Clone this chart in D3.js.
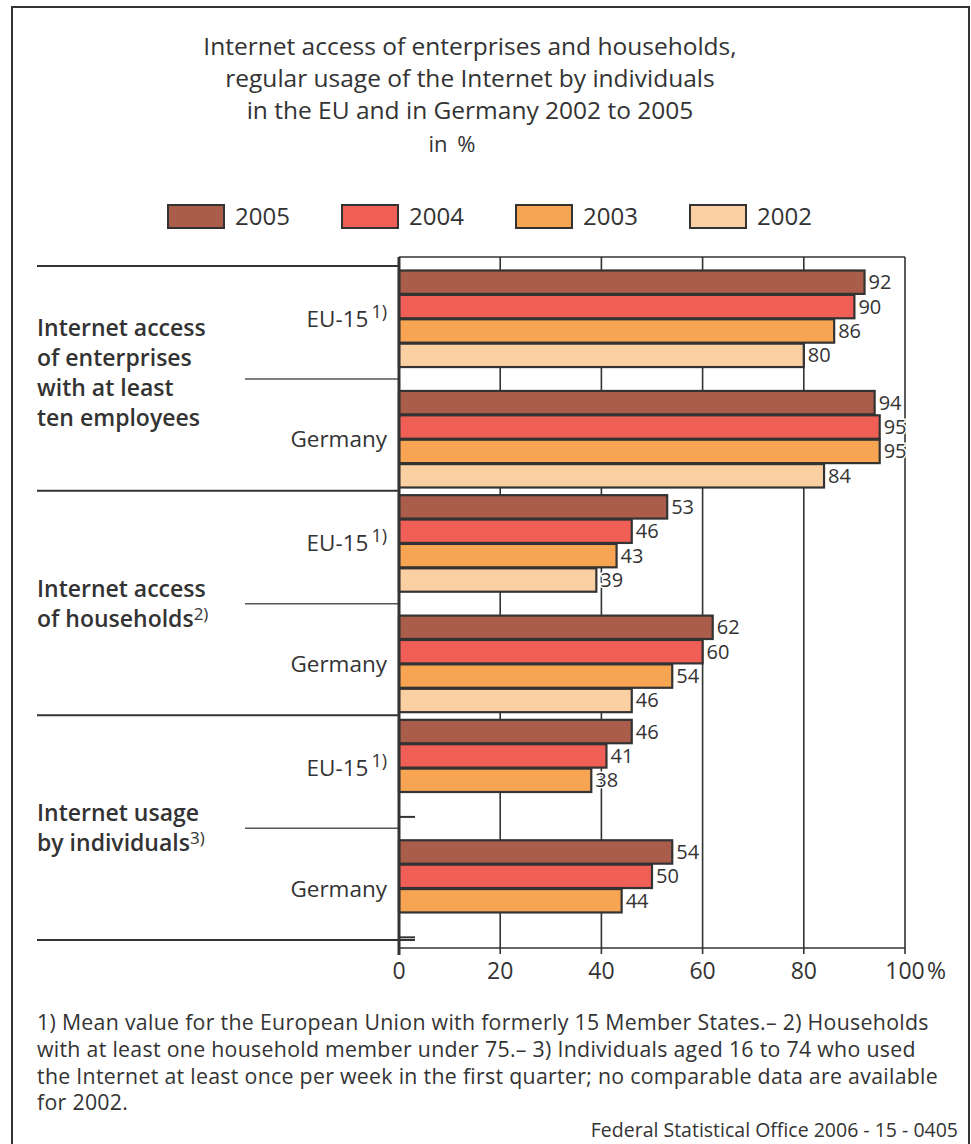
<!DOCTYPE html>
<html>
<head>
<meta charset="utf-8">
<script src="https://cdn.jsdelivr.net/npm/d3@7"></script>
<style>
  body { margin: 0; background: #fff; }
  svg text { font-family: "Open Sans", "Noto Sans", sans-serif; fill: #333; }
</style>
</head>
<body>
<div id="viz"></div>
<script>
// data
var years = ['2005', '2004', '2003', '2002'];
var countries = ['EU-15', 'Germany'];
var countrySup = ['1)', ''];
var sections = ['enterprises', 'households', 'individuals'];
var sectionLines = [
    ['Internet access', 'of enterprises', 'with at least', 'ten employees'],
    ['Internet access', 'of households'],
    ['Internet usage', 'by individuals']
];
var sectionSup = ['', '2)', '3)'];
// one value per section/country, in order: enterprises EU, DE, households EU, DE, individuals EU, DE
var v2005 = [92, 94, 53, 62, 46, 54];
var v2004 = [90, 95, 46, 60, 41, 50];
var v2003 = [86, 95, 43, 54, 38, 44];
var v2002 = [80, 84, 39, 46, null, null];
var xTicks = [0, 20, 40, 60, 80, 100];

var titleLines = [
    'Internet access of enterprises and households,',
    'regular usage of the Internet by individuals',
    'in the EU and in Germany 2002 to 2005'
];
var footLines = [
    '1) Mean value for the European Union with formerly 15 Member States.\u2013 2) Households',
    'with at least one household member under 75.\u2013 3) Individuals aged 16 to 74 who used',
    'the Internet at least once per week in the first quarter; no comparable data are available',
    'for 2002.'
];
var source = 'Federal Statistical Office 2006 - 15 - 0405';

var colors = d3.scaleOrdinal()
    .domain(years)
    .range(['#a95d4a', '#ef5f56', '#f7a552', '#fad0a3']);

var seriesByYear = { '2005': v2005, '2004': v2004, '2003': v2003, '2002': v2002 };

var width = 971, height = 1144;
var stroke = '#333';

var svg = d3.select('#viz').append('svg')
    .attr('width', width)
    .attr('height', height);

// outer frame
svg.append('rect')
    .attr('x', 12).attr('y', 7)
    .attr('width', 957).attr('height', 1150)
    .attr('fill', 'none').attr('stroke', stroke).attr('stroke-width', 2);

// title
svg.selectAll('.title').data(titleLines)
    .enter().append('text')
    .attr('x', 470)
    .attr('y', function(d, i) { return 55 + i * 32; })
    .attr('text-anchor', 'middle')
    .style('font-size', '24.5px')
    .style('font-weight', 500)
    .text(function(d) { return d; });

svg.append('text')
    .attr('x', 452).attr('y', 152)
    .attr('text-anchor', 'middle')
    .style('font-size', '22px')
    .style('word-spacing', '4px')
    .text('in %');

// legend
var legend = svg.selectAll('.legend').data(years)
    .enter().append('g')
    .attr('transform', function(d, i) { return 'translate(' + (168 + i * 174) + ',205)'; });

legend.append('rect')
    .attr('width', 56).attr('height', 23)
    .attr('fill', function(d) { return colors(d); })
    .attr('stroke', stroke).attr('stroke-width', 2);

legend.append('text')
    .attr('x', 67).attr('y', 20)
    .style('font-size', '24px')
    .text(function(d) { return d; });

// scales
var plotTop = 257, plotBottom = 948;
var x = d3.scaleLinear().domain([0, 100]).range([399, 905]);

var ySection = d3.scaleBand()
    .domain(sections)
    .range([266, 940]);

var yGroup = d3.scaleBand()
    .domain(countries)
    .range([4, 222])
    .paddingInner(0.19);

var yBar = d3.scaleBand()
    .domain(years)
    .range([0, yGroup.bandwidth()]);

// grid lines and frame of the plot
svg.selectAll('.grid').data(xTicks.slice(1, 5))
    .enter().append('line')
    .attr('x1', function(d) { return x(d); })
    .attr('x2', function(d) { return x(d); })
    .attr('y1', plotTop).attr('y2', plotBottom + 6)
    .attr('stroke', stroke).attr('stroke-width', 1.6);

svg.append('line')
    .attr('x1', x(100)).attr('x2', x(100))
    .attr('y1', plotTop).attr('y2', plotBottom + 6)
    .attr('stroke', stroke).attr('stroke-width', 1.6);

svg.append('line')
    .attr('x1', x(0)).attr('x2', x(100))
    .attr('y1', plotTop).attr('y2', plotTop)
    .attr('stroke', stroke).attr('stroke-width', 1.6);

svg.append('line')
    .attr('x1', x(0)).attr('x2', x(100))
    .attr('y1', plotBottom).attr('y2', plotBottom)
    .attr('stroke', stroke).attr('stroke-width', 1.6);

// x axis labels
svg.selectAll('.xlab').data(xTicks)
    .enter().append('text')
    .attr('x', function(d) { return x(d); })
    .attr('y', 979)
    .attr('text-anchor', 'middle')
    .style('font-size', '23px')
    .text(function(d) { return d; });

svg.append('text')
    .attr('x', x(100) + 22).attr('y', 979)
    .style('font-size', '23px')
    .text('%');

// sections
var rows = [];
sections.forEach(function(s, si) {
    countries.forEach(function(c, ci) {
        years.forEach(function(yr) {
            rows.push({ section: s, country: c, year: yr, value: seriesByYear[yr][si * 2 + ci] });
        });
    });
});

function barY(d) {
    return ySection(d.section) + yGroup(d.country) + yBar(d.year);
}

function midY(s) {
    return ySection(s) + (yGroup('EU-15') + yGroup.bandwidth() + yGroup('Germany')) / 2;
}

// section separators
svg.selectAll('.secline').data(sections.concat(['end']))
    .enter().append('line')
    .attr('x1', 37)
    .attr('x2', function(d) { return d == 'end' ? x(0) + 16 : x(0); })
    .attr('y1', function(d) { return d == 'end' ? 940 : ySection(d); })
    .attr('y2', function(d) { return d == 'end' ? 940 : ySection(d); })
    .attr('stroke', stroke).attr('stroke-width', 2);

// separators between EU and Germany
svg.selectAll('.subline').data(sections)
    .enter().append('line')
    .attr('x1', 245).attr('x2', x(0))
    .attr('y1', function(d) { return midY(d); })
    .attr('y2', function(d) { return midY(d); })
    .attr('stroke', '#555').attr('stroke-width', 1.5);

// bars
var present = rows.filter(function(d) { return d.value != null; });
var missing = rows.filter(function(d) { return d.value == null; });

svg.selectAll('.bar').data(present)
    .enter().append('rect')
    .attr('x', x(0))
    .attr('y', function(d) { return barY(d) + 0.5; })
    .attr('width', function(d) { return x(d.value) - x(0); })
    .attr('height', yBar.bandwidth() - 1)
    .attr('fill', function(d) { return colors(d.year); })
    .attr('stroke', stroke).attr('stroke-width', 2.2);

// small dash where no data exist
svg.selectAll('.nodata').data(missing)
    .enter().append('line')
    .attr('x1', x(0)).attr('x2', x(0) + 16)
    .attr('y1', function(d) { return barY(d) + yBar.bandwidth(); })
    .attr('y2', function(d) { return barY(d) + yBar.bandwidth(); })
    .attr('stroke', stroke).attr('stroke-width', 2);

// value labels
svg.selectAll('.val').data(present)
    .enter().append('text')
    .attr('x', function(d) { return x(d.value) + 4; })
    .attr('y', function(d) { return barY(d) + yBar.bandwidth() / 2 + 7; })
    .style('font-size', '20px')
    .style('paint-order', 'stroke')
    .style('stroke', '#fff').style('stroke-width', 3)
    .text(function(d) { return d.value; });

// left axis line
svg.append('line')
    .attr('x1', x(0)).attr('x2', x(0))
    .attr('y1', plotTop).attr('y2', plotBottom + 7)
    .attr('stroke', stroke).attr('stroke-width', 3);

// country labels
sections.forEach(function(s) {
    countries.forEach(function(c, ci) {
        var t = svg.append('text')
            .attr('x', 387)
            .attr('y', ySection(s) + yGroup(c) + yGroup.bandwidth() / 2 + 8)
            .attr('text-anchor', 'end')
            .style('font-size', '22.5px');
        t.append('tspan').text(c);
        if (countrySup[ci]) {
            t.append('tspan').attr('dx', 3).attr('dy', -9).style('font-size', '18px').text(countrySup[ci]);
        }
    });
});

// section labels
sections.forEach(function(s, si) {
    var lines = sectionLines[si];
    var cy = midY(s) - (si == 0 ? 6 : 0);
    var y0 = cy - (lines.length - 1) * 30 / 2 + 8;
    var t = svg.append('text')
        .attr('x', 37)
        .attr('y', y0)
        .style('font-size', '23px')
        .style('font-weight', 600);
    lines.forEach(function(l, li) {
        t.append('tspan')
            .attr('x', 37)
            .attr('y', y0 + li * 30)
            .text(l);
    });
    if (sectionSup[si]) {
        t.append('tspan').attr('dy', -7).style('font-size', '17px').style('font-weight', 400).text(sectionSup[si]);
    }
});

// footnotes
svg.selectAll('.foot').data(footLines)
    .enter().append('text')
    .attr('x', 37)
    .attr('y', function(d, i) { return 1030 + i * 26.8; })
    .style('font-size', '21.3px')
    .style('letter-spacing', '0.3px')
    .text(function(d) { return d; });

svg.append('text')
    .attr('x', 958).attr('y', 1137)
    .attr('text-anchor', 'end')
    .style('font-size', '19.5px')
    .text(source);
</script>
</body>
</html>
